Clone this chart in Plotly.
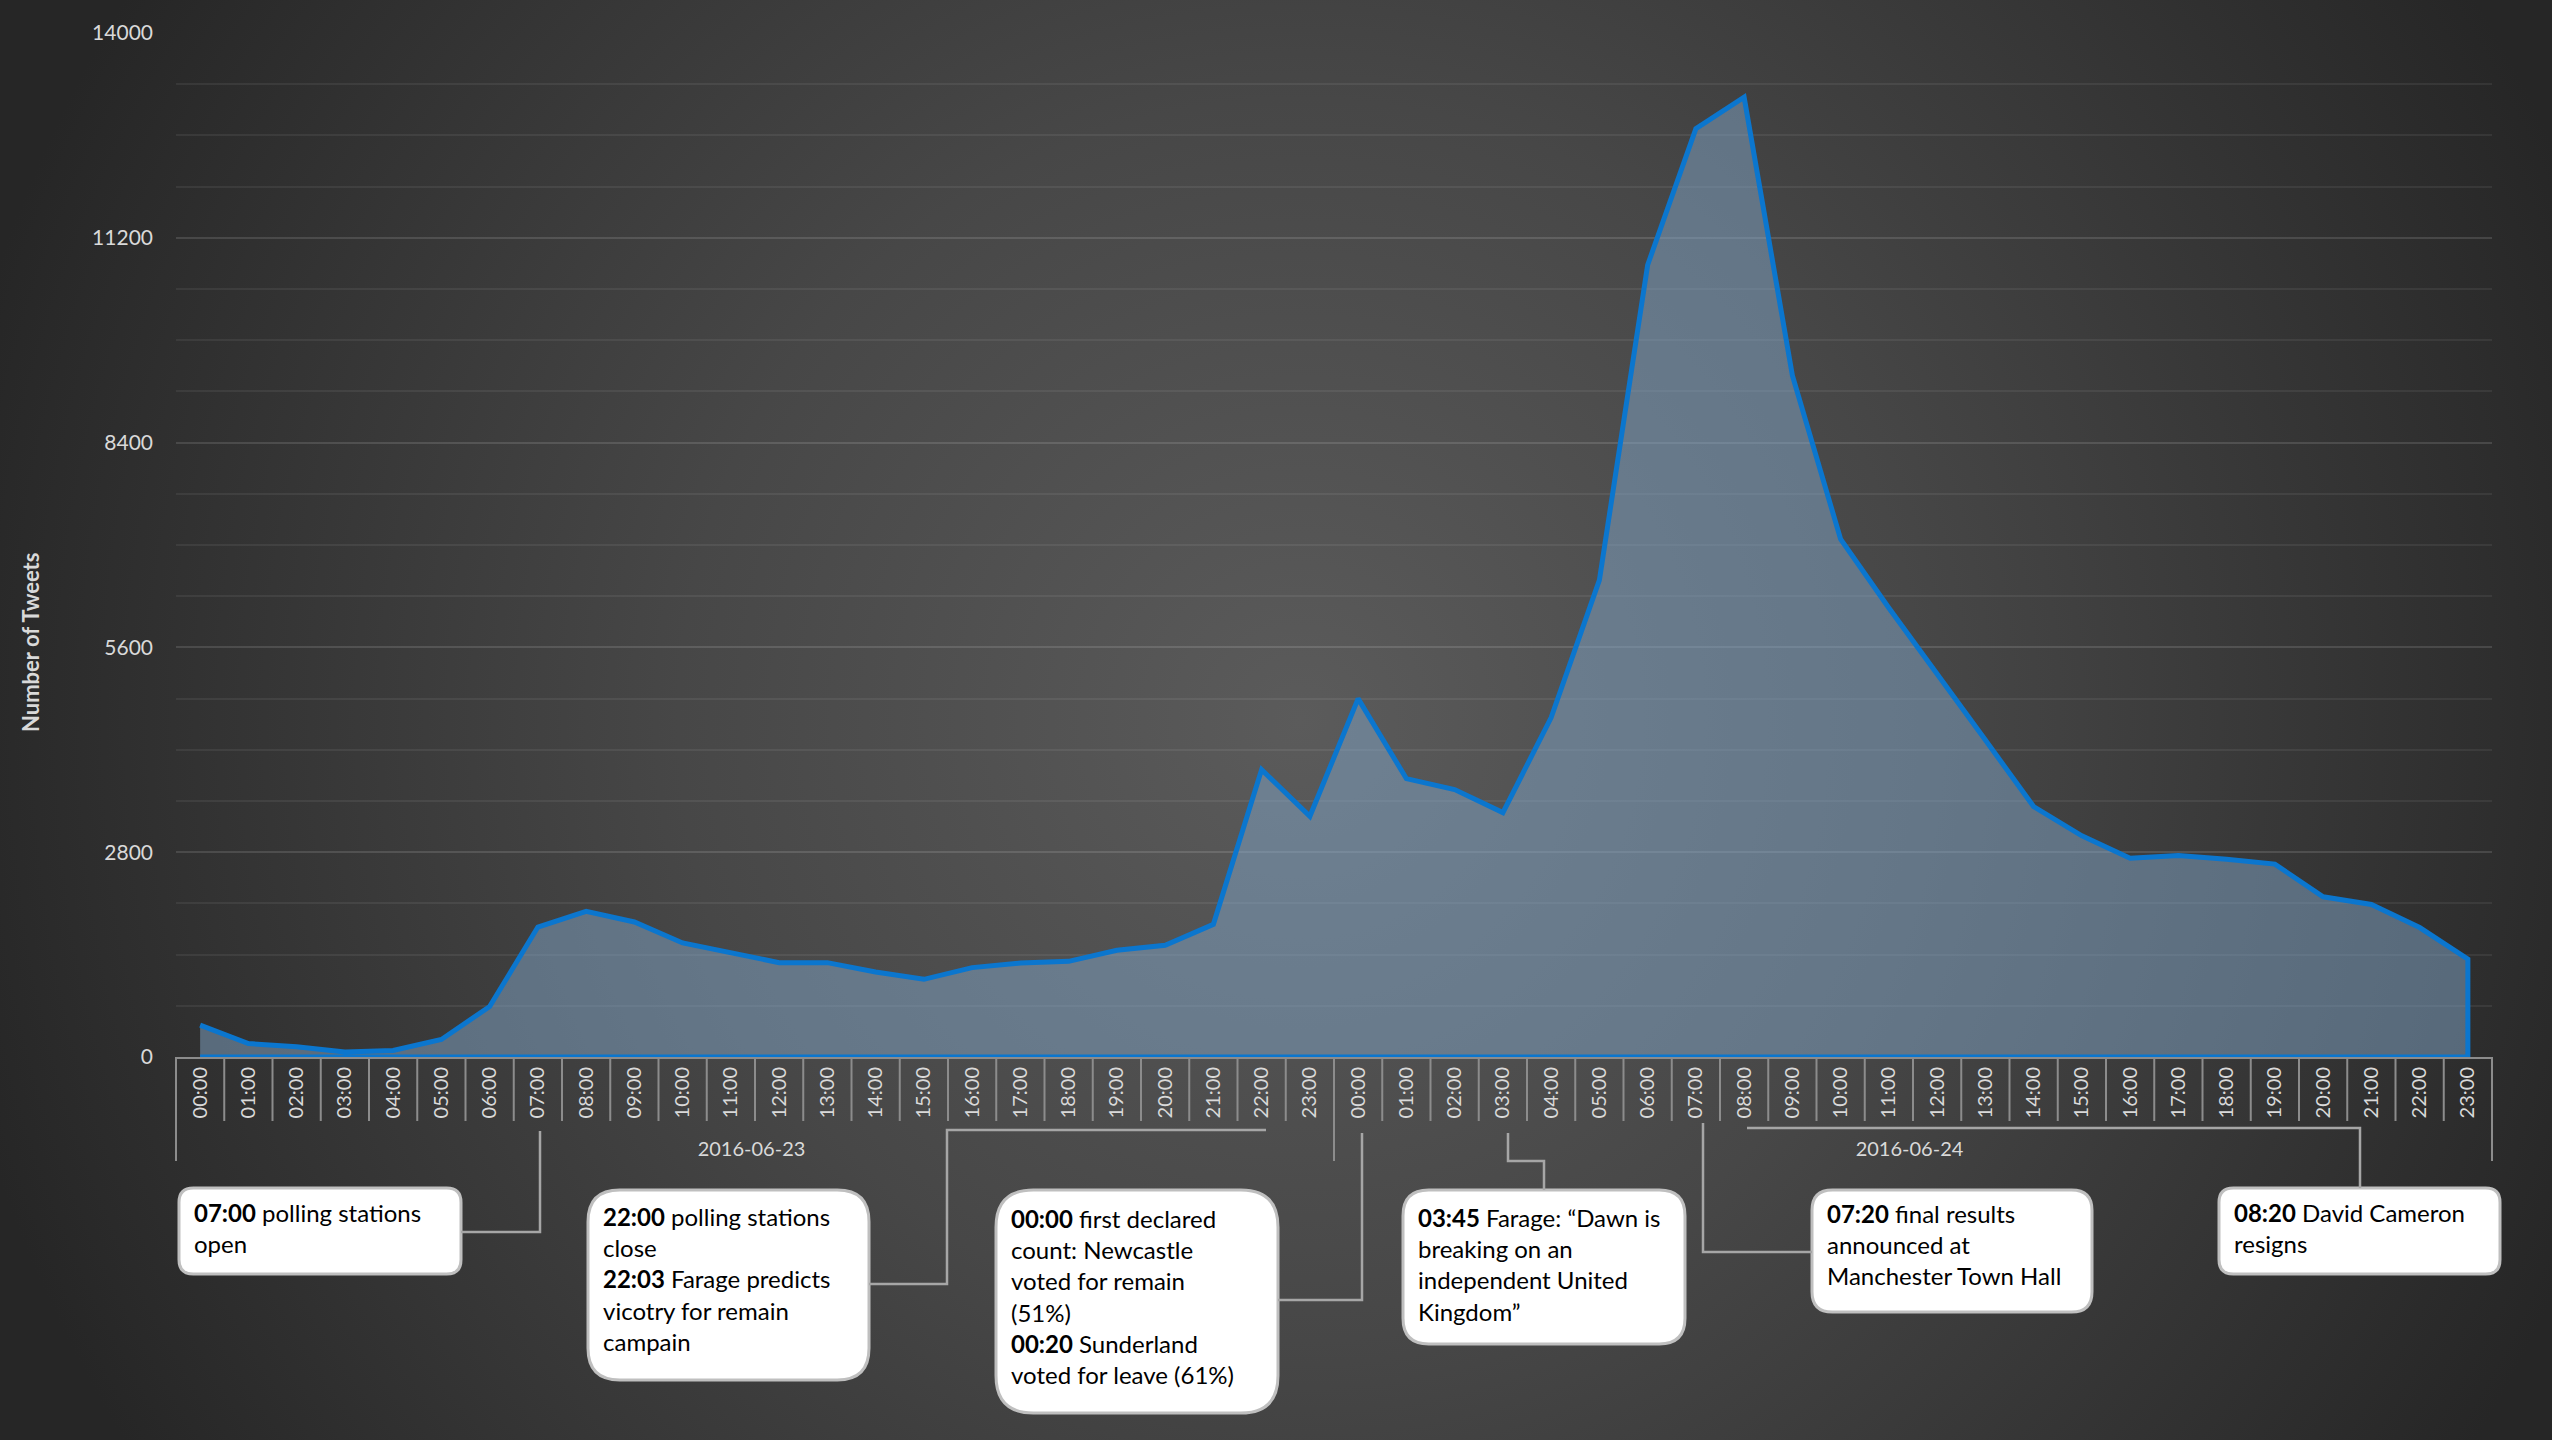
import base64

import plotly.graph_objects as go

# tweets per hour
DATES = ["2016-06-23", "2016-06-24"]
HOURS = ["00:00", "01:00", "02:00", "03:00", "04:00", "05:00", "06:00", "07:00",
         "08:00", "09:00", "10:00", "11:00", "12:00", "13:00", "14:00", "15:00",
         "16:00", "17:00", "18:00", "19:00", "20:00", "21:00", "22:00", "23:00"]
TWEETS_0623 = [435, 183, 140, 70, 88, 240, 690, 1777, 1992, 1846, 1559, 1422,
               1290, 1290, 1162, 1062, 1222, 1285, 1308, 1459, 1527, 1814, 3929, 3291]
TWEETS_0624 = [4900, 3806, 3656, 3341, 4640, 6520, 10828, 12692, 13122, 9319, 7080, 6138,
               5248, 4333, 3424, 3023, 2717, 2754, 2704, 2637, 2190, 2085, 1770, 1337]
Y_TICKS = [0, 2800, 5600, 8400, 11200, 14000]

EVENTS = [
    "<b>07:00</b> polling stations<br>open",
    "<b>22:00</b> polling stations<br>close<br><b>22:03</b> Farage predicts<br>vicotry for remain<br>campain",
    "<b>00:00</b> first declared<br>count: Newcastle<br>voted for remain<br>(51%)<br><b>00:20</b> Sunderland<br>voted for leave (61%)",
    "<b>03:45</b> Farage: \u201cDawn is<br>breaking on an<br>independent United<br>Kingdom\u201d",
    "<b>07:20</b> final results<br>announced at<br>Manchester Town Hall",
    "<b>08:20</b> David Cameron<br>resigns",
]

# page geometry (pixels)
W, H = 2552, 1440
L, R, T, B = 176, 60, 33, 383
PW, PH = W - L - R, H - T - B

# box rectangles (x0, y0, x1, y1), first text line centre, connector paths
BOXES = [
    (179, 1188, 461, 1274, 1213),
    (588, 1190, 869, 1380, 1217),
    (996, 1190, 1278, 1413, 1219),
    (1403, 1190, 1685, 1344, 1218),
    (1812, 1190, 2092, 1312, 1214),
    (2219, 1188, 2500, 1274, 1213),
]
CONNECTORS = [
    [(461, 1232), (540, 1232), (540, 1131)],
    [(869, 1284), (947, 1284), (947, 1130), (1266, 1130)],
    [(1278, 1300), (1362, 1300), (1362, 1133)],
    [(1508, 1133), (1508, 1161), (1544, 1161), (1544, 1190)],
    [(1703, 1123), (1703, 1252), (1812, 1252)],
    [(1747, 1128), (2360, 1128), (2360, 1188)],
]

GREY = "#8c8c8c"
TXT = "#d9d9d9"
GRID = "rgba(255,255,255,0.065)"
FONT = "Lato"


def fx(px):
    return (px - L) / PW


def fy(py):
    return (T + PH - py) / PH


def rounded_rect(x0, y0, x1, y1):
    # corner radius a sixth of the shorter side, like an office rounded rectangle
    r = min(x1 - x0, y1 - y0) / 6
    rx, ry = r / PW, r / PH
    a, b, c, d = fx(x0), fy(y1), fx(x1), fy(y0)
    return (f"M{a + rx},{b} L{c - rx},{b} Q{c},{b} {c},{b + ry} "
            f"L{c},{d - ry} Q{c},{d} {c - rx},{d} L{a + rx},{d} "
            f"Q{a},{d} {a},{d - ry} L{a},{b + ry} Q{a},{b} {a + rx},{b} Z")


outer = [DATES[0]] * len(TWEETS_0623) + [DATES[1]] * len(TWEETS_0624)
inner = HOURS + HOURS
values = TWEETS_0623 + TWEETS_0624

fig = go.Figure()
fig.add_trace(go.Scatter(
    x=[outer + outer[::-1], inner + inner[::-1]],
    y=values + [0] * len(values),
    mode="lines",
    fill="toself",
    fillcolor="rgba(130,166,200,0.5)",
    line=dict(color="#0b76ce", width=5),
    hoverinfo="skip",
    showlegend=False,
))

shapes = []
# tick marks between hour categories
n = len(values)
for i in range(n + 1):
    shapes.append(dict(type="line", xref="paper", yref="paper",
                       x0=i / n, x1=i / n, y0=0, y1=-64 / PH,
                       line=dict(color=GREY, width=2), layer="above"))

annotations = []
for (x0, y0, x1, y1, first), text in zip(BOXES, EVENTS):
    shapes.append(dict(type="path", xref="paper", yref="paper",
                       path=rounded_rect(x0, y0, x1, y1),
                       fillcolor="white", line=dict(color="#bfbfbf", width=3)))
    annotations.append(dict(
        xref="paper", yref="paper", x=fx(x0 + 13), y=fy(first - 17),
        xanchor="left", yanchor="top", align="left", showarrow=False,
        text=text, font=dict(family=FONT, size=24, color="black"),
    ))

for pts in CONNECTORS:
    path = "M" + " L".join(f"{fx(px)},{fy(py)}" for px, py in pts)
    shapes.append(dict(type="path", xref="paper", yref="paper", path=path,
                       line=dict(color="#a6a6a6", width=2.5)))

annotations.append(dict(
    xref="paper", yref="paper", x=fx(30), y=fy(643), textangle=-90,
    xanchor="center", yanchor="middle",
    showarrow=False, text="<b>Number of Tweets</b>",
    font=dict(family=FONT, size=22, color=TXT),
))

svg = (
    f'<svg xmlns="http://www.w3.org/2000/svg" width="{W}" height="{H}" viewBox="0 0 {W} {H}">'
    '<defs><radialGradient id="g" gradientUnits="userSpaceOnUse" cx="1300" cy="720" r="1380">'
    '<stop offset="0" stop-color="#5b5b5b"/><stop offset="0.45" stop-color="#474747"/>'
    '<stop offset="1" stop-color="#262626"/></radialGradient></defs>'
    f'<rect width="{W}" height="{H}" fill="url(#g)"/></svg>'
)
bg = "data:image/svg+xml;base64," + base64.b64encode(svg.encode()).decode()

fig.update_layout(
    width=W, height=H,
    margin=dict(l=L, r=R, t=T, b=B, autoexpand=False),
    paper_bgcolor="#2b2b2b",
    plot_bgcolor="rgba(0,0,0,0)",
    font=dict(family=FONT, color=TXT),
    showlegend=False,
    images=[dict(source=bg, xref="paper", yref="paper", x=-L / PW, y=1 + T / PH,
                 sizex=W / PW, sizey=H / PH, sizing="stretch", layer="below",
                 xanchor="left", yanchor="top")],
    shapes=shapes,
    annotations=annotations,
    xaxis=dict(
        type="multicategory",
        range=[-0.5, n - 0.5],
        tickangle=-90,
        ticks="",
        tickfont=dict(family=FONT, size=20, color=TXT),
        showline=True, linecolor=GREY, linewidth=2,
        showgrid=False,
        showdividers=True, dividercolor=GREY, dividerwidth=2,
        automargin=False,
    ),
    yaxis=dict(
        range=[0, 14000],
        tickvals=Y_TICKS,
        tickformat="d",
        tickfont=dict(family=FONT, size=21, color=TXT),
        ticks="",
        ticklabelstandoff=22,
        showline=False,
        zeroline=False,
        gridcolor=GRID, gridwidth=1.5,
        minor=dict(dtick=700, showgrid=True, gridcolor=GRID, gridwidth=1.5),
        automargin=False,
    ),
)

fig.write_html("out.html", config={"displayModeBar": False},
               post_script="document.body.style.margin = '0';")
